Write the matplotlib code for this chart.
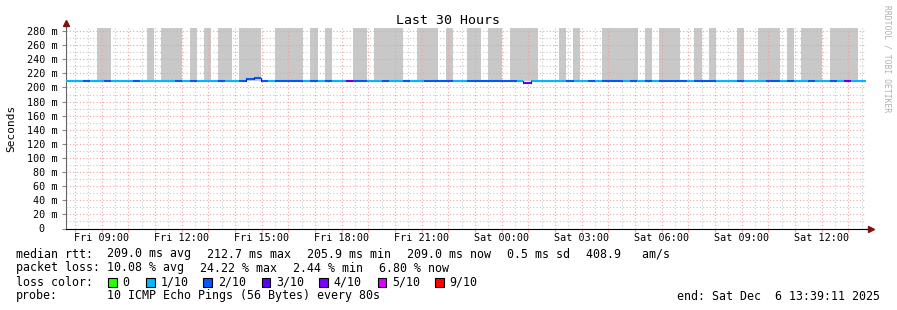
import pandas as pd
import matplotlib
matplotlib.use("Agg")
import matplotlib.pyplot as plt
import matplotlib.dates as mdates
from matplotlib.ticker import MultipleLocator, FuncFormatter
from matplotlib.patches import Rectangle

MONO = "DejaVu Sans Mono"
W, H = 897, 310

t_start = pd.Timestamp("2025-12-05 07:39:11")
t_end = pd.Timestamp("2025-12-06 13:39:11")
DAYS = {"Fri": "2025-12-05", "Sat": "2025-12-06"}


def ts(s):
    d, hm = s.split()
    return pd.Timestamp(DAYS[d] + " " + hm)


# grey smoke blocks (pings far above the median)
smoke_start = ["Fri 08:49", "Fri 10:42", "Fri 11:13", "Fri 12:19", "Fri 12:50", "Fri 13:22",
               "Fri 14:09", "Fri 15:30", "Fri 16:49", "Fri 17:22", "Fri 18:25", "Fri 19:13",
               "Fri 20:49", "Fri 21:54", "Fri 22:42", "Fri 23:29", "Sat 00:19", "Sat 02:09",
               "Sat 02:40", "Sat 03:46", "Sat 05:22", "Sat 05:54", "Sat 07:13", "Sat 07:46",
               "Sat 08:49", "Sat 09:37", "Sat 10:42", "Sat 11:13", "Sat 12:19"]
smoke_end = ["Fri 09:21", "Fri 10:58", "Fri 12:00", "Fri 12:34", "Fri 13:06", "Fri 13:53",
             "Fri 14:58", "Fri 16:33", "Fri 17:06", "Fri 17:38", "Fri 18:57", "Fri 20:18",
             "Fri 21:36", "Fri 22:10", "Fri 23:13", "Sat 00:01", "Sat 01:22", "Sat 02:25",
             "Sat 02:56", "Sat 05:07", "Sat 05:38", "Sat 06:41", "Sat 07:31", "Sat 08:02",
             "Sat 09:05", "Sat 10:26", "Sat 10:58", "Sat 12:01", "Sat 13:22"]
smoke_top = 285.0

# median rtt (ms), step changes
rtt_time = ["Fri 07:39", "Fri 14:25", "Fri 14:43", "Fri 14:58", "Sat 00:48", "Sat 01:06"]
rtt_value = [209.0, 211.6, 212.7, 209.0, 205.9, 209.0]

# packet loss (x/10) spans, everything else is 1/10
loss_start = ["Fri 08:18", "Fri 09:05", "Fri 10:10", "Fri 11:45", "Fri 12:19", "Fri 13:22",
              "Fri 14:09", "Fri 15:30", "Fri 16:49", "Fri 17:22", "Fri 18:10", "Fri 18:25",
              "Fri 19:31", "Fri 20:18", "Fri 21:05", "Fri 22:42", "Sat 00:48", "Sat 02:25",
              "Sat 03:14", "Sat 03:46", "Sat 04:49", "Sat 05:22", "Sat 05:54", "Sat 07:13",
              "Sat 08:49", "Sat 09:55", "Sat 10:42", "Sat 11:29", "Sat 12:19", "Sat 12:50"]
loss_end = ["Fri 08:34", "Fri 09:21", "Fri 10:26", "Fri 12:01", "Fri 12:34", "Fri 13:37",
            "Fri 15:14", "Fri 16:33", "Fri 17:06", "Fri 17:38", "Fri 18:25", "Fri 18:57",
            "Fri 19:46", "Fri 20:34", "Fri 22:10", "Sat 00:34", "Sat 01:06", "Sat 02:43",
            "Sat 03:30", "Sat 04:33", "Sat 05:04", "Sat 05:38", "Sat 06:57", "Sat 08:02",
            "Sat 09:05", "Sat 10:26", "Sat 10:58", "Sat 11:45", "Sat 12:34", "Sat 13:06"]
loss_level = [2, 2, 2, 2, 2, 2, 2, 2, 2, 2, 3, 2, 2, 2, 2, 2, 3, 2, 2, 2, 2, 2, 2, 2,
              2, 2, 2, 2, 2, 3]
default_loss = 1

loss_names = ["0", "1/10", "2/10", "3/10", "4/10", "5/10", "9/10"]
loss_keys = [0, 1, 2, 3, 4, 5, 9]
loss_colors = ["#26ff00", "#00b8ff", "#0059ff", "#5e00ff", "#7e00ff", "#dd00ff", "#ff0000"]
color_of = dict(zip(loss_keys, loss_colors))

fig = plt.figure(figsize=(W / 100, H / 100), dpi=100)
ax = fig.add_axes([65.8 / W, 1 - 228.5 / H, 800 / W, 201 / H])
ax.set_xlim(t_start, t_end)
ax.set_ylim(0, 285)

# smoke
for a, b in zip(smoke_start, smoke_end):
    a, b = ts(a), ts(b)
    ax.bar(mdates.date2num(a), smoke_top - 209.0, width=mdates.date2num(b) - mdates.date2num(a),
           bottom=209.0, align="edge", color="#c8c8c8", linewidth=0, zorder=0.3)

# median line coloured by loss
rt = [ts(s) for s in rtt_time]
ls = [(ts(a), ts(b), l) for a, b, l in zip(loss_start, loss_end, loss_level)]
edges = sorted(set([t_start, t_end] + rt[1:] + [x[0] for x in ls] + [x[1] for x in ls]))


def rtt_at(t):
    v = rtt_value[0]
    for tt, vv in zip(rt, rtt_value):
        if t >= tt:
            v = vv
    return v


def loss_at(t):
    for a, b, l in ls:
        if a <= t < b:
            return l
    return default_loss


prev_y = None
for a, b in zip(edges[:-1], edges[1:]):
    mid = a + (b - a) / 2
    y = rtt_at(mid)
    c = color_of[loss_at(mid)]
    ax.plot([a, b], [y, y], color=c, lw=1.5, solid_capstyle="butt", zorder=3)
    if prev_y is not None and prev_y != y:
        ax.plot([a, a], [prev_y, y], color="#0030a0", lw=0.8, zorder=3)
    prev_y = y

# grid
ax.set_axisbelow(True)
ax.yaxis.set_major_locator(MultipleLocator(20))
ax.yaxis.set_minor_locator(MultipleLocator(10))
ax.yaxis.set_major_formatter(FuncFormatter(lambda v, p: "0  " if v == 0 else "%d m" % v))
ax.xaxis.set_major_locator(mdates.HourLocator())
ax.xaxis.set_minor_locator(mdates.MinuteLocator(byminute=[30]))
ax.xaxis.set_major_formatter(FuncFormatter(
    lambda v, p: mdates.num2date(v).strftime("%a %H:%M") if mdates.num2date(v).hour % 3 == 0 else ""))
dots = (0, (1, 2))
ax.grid(which="major", color="#f2a0a0", linestyle=dots, lw=0.8)
ax.grid(which="minor", color="#c8c8c8", linestyle=dots, lw=0.8)
ax.tick_params(axis="y", which="major", length=3, width=0.8, color="#888888", pad=3,
               labelsize=7.3, labelfontfamily=MONO)
ax.tick_params(axis="y", which="minor", length=0)
ax.tick_params(axis="x", which="major", length=2, width=0.8, color="#f2a0a0", pad=1.5,
               labelsize=7.3, labelfontfamily=MONO)
ax.tick_params(axis="x", which="minor", length=0)

for s in ["top", "right"]:
    ax.spines[s].set_visible(False)
ax.spines["left"].set_color("#666666")
ax.spines["bottom"].set_color("black")
# axis arrows
ax.plot([0, 0], [1, 1.02], transform=ax.transAxes, color="#666666", lw=0.8, clip_on=False)
ax.plot([0], [1.022], transform=ax.transAxes, marker="^", ms=4, color="#7f1010", clip_on=False)
ax.plot([1, 1.005], [0, 0], transform=ax.transAxes, color="black", lw=0.8, clip_on=False)
ax.plot([1.007], [0], transform=ax.transAxes, marker=">", ms=4, color="#7f1010", clip_on=False)

ax.set_ylabel("Seconds", family=MONO, fontsize=8)
ax.yaxis.set_label_coords((16 - 65.8) / 800, 0.5)
fig.text(448 / W, 1 - 20 / H, "Last 30 Hours", family=MONO, fontsize=9.5, ha="center", va="center")
fig.text(887 / W, 1 - 59 / H, "RRDTOOL / TOBI OETIKER", family=MONO, fontsize=5.8,
         color="#b0b0b0", rotation=270, ha="center", va="center")


def txt(x, y, s, **kw):
    fig.text(x / W, 1 - y / H, s, family=MONO, fontsize=8.4, va="center", **kw)


txt(16, 254, "median rtt:")
for x, s in zip([107.3, 207.3, 307.3, 407.3, 507.3, 586],
                ["209.0 ms avg", "212.7 ms max", "205.9 ms min", "209.0 ms now", "0.5 ms sd",
                 "408.9   am/s"]):
    txt(x, 254, s)
txt(16, 268, "packet loss:")
for x, s in zip([107.3, 200, 293.3, 379.3], ["10.08 % avg", "24.22 % max", "2.44 % min", "6.80 % now"]):
    txt(x, 268, s)
txt(16, 282, "loss color:")
box_x = [108, 146, 203.3, 261.7, 319.3, 377.7, 435]
for bx, name, c in zip(box_x, loss_names, loss_colors):
    fig.add_artist(Rectangle((bx / W, 1 - 286.7 / H), 8.5 / W, 8.5 / H, transform=fig.transFigure,
                             facecolor=c, edgecolor="black", lw=0.8))
    txt(bx + 14.5, 282, name)
txt(16, 296, "probe:")
txt(107.3, 296, "10 ICMP Echo Pings (56 Bytes) every 80s")
txt(880, 296, "end: Sat Dec  6 13:39:11 2025", ha="right")

fig.savefig("out.png", dpi=100)
